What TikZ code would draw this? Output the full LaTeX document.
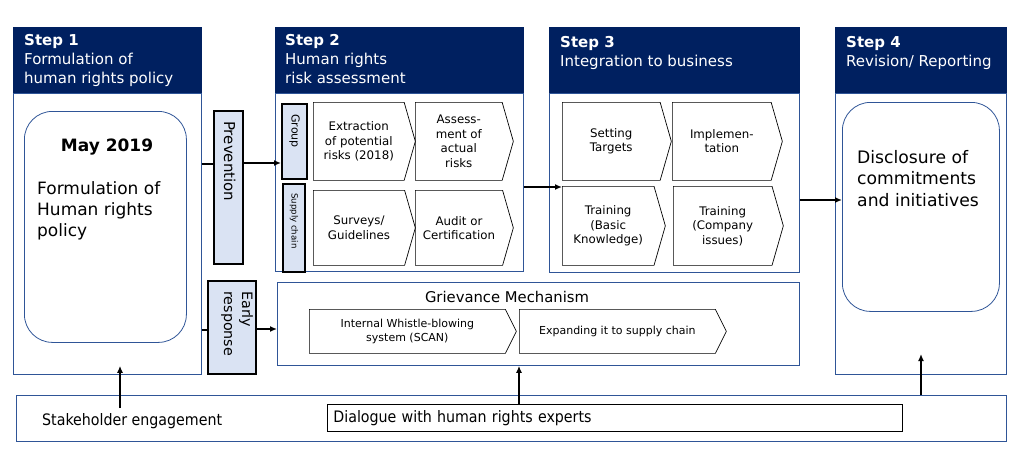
\documentclass[tikz,border=0pt]{standalone}
\usepackage{fontspec}
\setmainfont{DejaVu Sans}
\newfontfamily\condfont{DejaVu Sans Condensed}
\usetikzlibrary{positioning,shapes.symbols,arrows.meta}
\definecolor{navy}{RGB}{0,32,96}
\definecolor{frameblue}{RGB}{47,85,151}
\definecolor{paleblue}{RGB}{218,227,243}

\tikzset{
	headbox/.style={fill=navy,draw=navy,anchor=north west,minimum height=66pt,inner sep=0pt},
	headtext/.style={text=white,anchor=north west,align=left,inner sep=0pt,font=\fontsize{15}{19.3}\selectfont},
	bodybox/.style={draw=frameblue,line width=0.8pt,anchor=north west,inner sep=0pt},
	roundbox/.style={draw=frameblue,line width=0.8pt,rounded corners=28pt,anchor=north west,inner sep=0pt},
	sidebox/.style={fill=paleblue,draw=black,line width=2.2pt,anchor=north west,inner sep=0pt},
	sidetext/.style={rotate=-90,inner sep=0pt,align=left},
	chev/.style={signal,signal to=east,signal from=nowhere,draw=black,line width=0.7pt,
		inner sep=1pt,align=center,anchor=north west,font=\fontsize{11.8}{14.5}\selectfont},
	flow/.style={line width=1.6pt,-{Latex[length=7pt,width=6pt]}},
	plain/.style={line width=1.6pt}
}

\begin{document}
\begin{tikzpicture}[x=1pt,y=-1pt]
		\useasboundingbox (0,0) rectangle (1029,463);
		
		% step headers
		\node[headbox,minimum width=188pt] (hone) at (13,27) {};
		\node[headtext] at ([xshift=11pt,yshift=-7pt]hone.north west) {\textbf{Step 1}\\Formulation of\\human rights policy};
		\node[headbox,minimum width=248pt] (htwo) at (275,27) {};
		\node[headtext] at ([xshift=10pt,yshift=-7pt]htwo.north west) {\textbf{Step 2}\\Human rights\\risk assessment};
		\node[headbox,minimum width=250pt] (hthree) at (549,27) {};
		\node[headtext] at ([xshift=11pt,yshift=-9pt]hthree.north west) {\textbf{Step 3}\\Integration to business};
		\node[headbox,minimum width=171pt] (hfour) at (835,27) {};
		\node[headtext] at ([xshift=11pt,yshift=-9pt]hfour.north west) {\textbf{Step 4}\\Revision/ Reporting};
		
		% step bodies
		\node[bodybox,minimum width=188pt,minimum height=281pt] (bone) at (13,93) {};
		\node[bodybox,minimum width=248pt,minimum height=178pt] (btwo) at (275,93) {};
		\node[bodybox,minimum width=250pt,minimum height=179pt] (bthree) at (549,93) {};
		\node[bodybox,minimum width=171pt,minimum height=281pt] (bfour) at (835,93) {};
		
		% step 1
		\node[roundbox,minimum width=162pt,minimum height=231pt] (policy) at (24,111) {};
		\node[font=\fontsize{17}{20}\selectfont\bfseries] (may) at (107,147) {May 2019};
		\node[anchor=north west,align=left,inner sep=0pt,font=\fontsize{17}{21}\selectfont] (policytext) at (37,181) {Formulation of\\Human rights\\policy};
		
		% prevention / early response
		\node[sidebox,minimum width=29pt,minimum height=153pt] (prev) at (213,110) {};
		\node[sidetext,anchor=west,font=\fontsize{15}{18}\selectfont] at ([xshift=1pt,yshift=-11pt]prev.north) {Prevention};
		\node[sidebox,minimum width=48pt,minimum height=93pt] (early) at (207,280) {};
		\node[sidetext,anchor=north west,font=\fontsize{14.3}{18}\selectfont] at ([xshift=-4pt,yshift=-11pt]early.north east) {Early\\response};
		
		% step 2
		\node[sidebox,minimum width=25pt,minimum height=75pt] (grp) at (281,103) {};
		\node[sidetext,anchor=west,font=\fontsize{11}{13}\selectfont] at ([yshift=-11pt]grp.north) {Group};
		\node[sidebox,minimum width=22pt,minimum height=88pt] (supply) at (282,183) {};
		\node[sidetext,anchor=west,font=\fontsize{8.6}{10}\selectfont] at ([yshift=-10pt]supply.north) {Supply chain};
		\node[chev,minimum width=102pt,minimum height=78pt,signal pointer angle=148] (extract) at (313,102) {Extraction\\of potential\\risks (2018)};
		\node[chev,minimum width=98pt,minimum height=78pt,signal pointer angle=148] (assess) at (415,102) {Assess-\\ment of\\actual\\risks};
		\node[chev,minimum width=102pt,minimum height=75pt,signal pointer angle=148] (survey) at (313,190) {Surveys/\\Guidelines};
		\node[chev,minimum width=98pt,minimum height=75pt,signal pointer angle=148] (audit) at (415,190) {Audit or\\Certification};
		
		% step 3
		\node[chev,minimum width=109pt,minimum height=78pt,signal pointer angle=148] (target) at (562,102) {Setting\\Targets};
		\node[chev,minimum width=110pt,minimum height=78pt,signal pointer angle=148] (implement) at (672,102) {Implemen-\\tation};
		\node[chev,minimum width=103pt,minimum height=79pt,signal pointer angle=148] (basic) at (562,186) {Training\\(Basic\\Knowledge)};
		\node[chev,minimum width=110pt,minimum height=79pt,signal pointer angle=148] (company) at (673,186) {Training\\(Company\\issues)};
		
		% step 4
		\node[roundbox,minimum width=157pt,minimum height=209pt] (disclose) at (842,102) {};
		\node[anchor=north west,align=left,inner sep=0pt,font=\fontsize{17.2}{21.5}\selectfont] (disclosetext) at (857,150) {Disclosure of\\commitments\\and initiatives};
		
		% grievance mechanism
		\node[bodybox,minimum width=522pt,minimum height=83pt] (griev) at (277,282) {};
		\node[font=\fontsize{14.8}{17}\selectfont] (grievtitle) at (507,297) {Grievance Mechanism};
		\node[chev,minimum width=207pt,minimum height=44pt,signal pointer angle=127,font=\fontsize{11}{14}\selectfont] (whistle) at (309,309) {Internal Whistle-blowing\\system (SCAN)};
		\node[chev,minimum width=207pt,minimum height=44pt,signal pointer angle=127,font=\fontsize{11}{14}\selectfont] (expand) at (519,309) {Expanding it to supply chain};
		
		% engagement
		\node[bodybox,minimum width=990pt,minimum height=46pt] (engage) at (16,395) {};
		\node[anchor=west,inner sep=0pt,font=\condfont\fontsize{15.8}{18}\selectfont] (stake) at (42,421) {Stakeholder engagement};
		\node[draw=black,line width=0.8pt,anchor=north west,minimum height=27pt,text width=563pt,inner xsep=6pt,
			align=left,font=\condfont\fontsize{15.8}{18}\selectfont] (dialogue) at (327,404) {Dialogue with human rights experts};
		
		% connectors
		\draw[plain] (bone.east |- 0,164) -- (prev.west |- 0,164);
		\draw[flow] (prev.east |- 0,163) -- (grp.west |- 0,163);
		\draw[plain] (bone.east |- 0,330) -- (early.west |- 0,330);
		\draw[flow] (early.east |- 0,329) -- (griev.west |- 0,329);
		\draw[flow] (btwo.east |- 0,187) -- (basic.west |- 0,187);
		\draw[flow] (bthree.east |- 0,200) -- (disclose.west |- 0,200);
		\coordinate (stakefoot) at (120,408);
		\draw[flow] (stakefoot) -- ([yshift=9pt]stakefoot |- bone.south);
		\draw[flow] (dialogue.north -| 519,0) -- (griev.south -| 519,0);
		\coordinate (revfoot) at (921,395);
		\draw[flow] (revfoot) -- (921,354);
		
		\end{tikzpicture}
\end{document}
